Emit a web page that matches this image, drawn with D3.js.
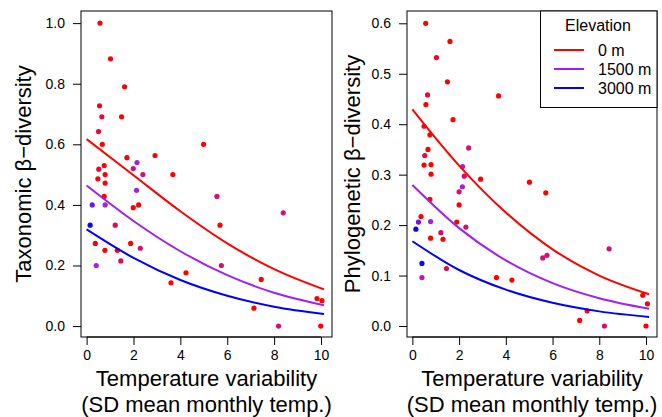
<!DOCTYPE html>
<html>
<head>
<meta charset="utf-8">
<script src="https://cdn.jsdelivr.net/npm/d3@7"></script>
<style>
  body { margin: 0; background: #fff; }
  svg { display: block; font-family: "Liberation Sans", Arial, sans-serif; }
</style>
</head>
<body>
<svg id="chart"></svg>
<script>
// site points, taxonomic panel: [temp variability, beta diversity, elevation m]
const taxPoints = [
    [0.57, 1.00, 0], [1.02, 0.882, 0], [1.62, 0.79, 0], [0.55, 0.727, 100],
    [0.65, 0.691, 300], [1.49, 0.691, 0], [0.51, 0.642, 300], [0.67, 0.60, 0],
    [4.99, 0.60, 0], [2.92, 0.563, 0], [1.72, 0.556, 0], [2.15, 0.54, 1400],
    [0.75, 0.53, 0], [0.52, 0.518, 300], [1.99, 0.52, 700], [0.79, 0.50, 0],
    [2.40, 0.50, 700], [3.68, 0.50, 0], [0.48, 0.486, 0], [0.79, 0.472, 0],
    [0.75, 0.428, 0], [0.24, 0.40, 2000], [0.79, 0.40, 1400], [2.13, 0.448, 1400],
    [2.22, 0.40, 0], [1.99, 0.391, 0], [5.56, 0.428, 700], [5.69, 0.333, 0],
    [8.39, 0.374, 700], [0.15, 0.333, 2900], [1.22, 0.333, 500], [0.37, 0.273, 0],
    [1.88, 0.273, 0], [2.29, 0.257, 700], [0.78, 0.25, 0], [1.31, 0.25, 0],
    [1.46, 0.215, 500], [0.41, 0.20, 1400], [5.75, 0.20, 700], [4.24, 0.176, 0],
    [3.60, 0.143, 0], [7.45, 0.154, 0], [7.14, 0.059, 0], [9.83, 0.091, 0],
    [10.04, 0.084, 0], [8.19, 0.0, 700], [9.99, 0.0, 0]
];

// site points, phylogenetic panel
const phyPoints = [
    [0.57, 0.60, 0], [1.61, 0.564, 0], [1.03, 0.532, 200], [1.50, 0.484, 0],
    [0.65, 0.458, 300], [3.69, 0.456, 0], [0.58, 0.439, 0], [1.74, 0.409, 0],
    [0.50, 0.396, 300], [0.75, 0.379, 0], [2.41, 0.353, 700], [0.67, 0.35, 0],
    [0.53, 0.338, 300], [0.50, 0.319, 0], [0.80, 0.32, 0], [2.15, 0.316, 1400],
    [0.80, 0.301, 0], [2.22, 0.297, 700], [2.92, 0.291, 0], [5.01, 0.285, 0],
    [5.71, 0.264, 0], [0.75, 0.251, 0], [2.14, 0.276, 1400], [2.00, 0.266, 700],
    [2.00, 0.24, 0], [0.37, 0.217, 0], [0.26, 0.206, 2000], [0.78, 0.207, 1400],
    [1.90, 0.206, 0], [2.29, 0.196, 700], [0.15, 0.192, 2900], [1.22, 0.185, 500],
    [0.78, 0.174, 0], [1.31, 0.172, 0], [0.41, 0.124, 2900], [1.46, 0.114, 500],
    [0.41, 0.096, 1100], [5.58, 0.135, 700], [5.76, 0.14, 700], [8.42, 0.153, 700],
    [3.60, 0.096, 0], [4.26, 0.091, 0], [9.86, 0.061, 0], [10.06, 0.044, 0],
    [7.48, 0.030, 0], [7.16, 0.011, 0], [8.22, 0.0, 700], [10.0, 0.0, 0]
];

// fitted curves
const curveX = [0, 2, 4, 6, 8, 10.13];
const taxFit0 = [0.617, 0.498, 0.379, 0.273, 0.188, 0.121];
const taxFit1500 = [0.464, 0.347, 0.247, 0.168, 0.110, 0.069];
const taxFit3000 = [0.319, 0.225, 0.152, 0.100, 0.064, 0.040];
const phyFit0 = [0.4295, 0.318, 0.225, 0.152, 0.100, 0.063];
const phyFit1500 = [0.2794, 0.194, 0.130, 0.085, 0.055, 0.034];
const phyFit3000 = [0.168, 0.111, 0.072, 0.046, 0.029, 0.018];

const elevations = [0, 1500, 3000];
const legendLabels = ['0 m', '1500 m', '3000 m'];
const lineColors = ['#ff0000', '#a020f0', '#0000ff'];

const xTicks = [0, 2, 4, 6, 8, 10];
const taxTicks = [0, 0.2, 0.4, 0.6, 0.8, 1.0];
const phyTicks = [0, 0.1, 0.2, 0.3, 0.4, 0.5, 0.6];

const width = 662;
const height = 417;

const svg = d3.select('#chart')
    .attr('width', width)
    .attr('height', height);

const color = d3.scaleLinear()
    .domain(elevations)
    .range(lineColors);

function drawPanel(p) {
    const x = d3.scaleLinear().domain(p.xDomain).range([p.left, p.right]);
    const y = d3.scaleLinear().domain(p.yDomain).range([337, 11]);
    const g = svg.append('g');

    // points
    g.selectAll('.pt')
        .data(p.points)
        .enter().append('circle')
        .attr('cx', d => x(d[0]))
        .attr('cy', d => y(d[1]))
        .attr('r', 2.6)
        .attr('fill', d => color(d[2]));

    // curves
    const line = d3.line()
        .x((d, i) => x(curveX[i]))
        .y(d => y(d))
        .curve(d3.curveMonotoneX);

    p.fits.forEach((f, i) => {
        g.append('path')
            .attr('d', line(f))
            .attr('fill', 'none')
            .attr('stroke', lineColors[i])
            .attr('stroke-width', 2);
    });

    // box
    g.append('rect')
        .attr('x', p.left)
        .attr('y', 11)
        .attr('width', p.right - p.left)
        .attr('height', 326)
        .attr('fill', 'none')
        .attr('stroke', '#000')
        .attr('stroke-width', 1);

    // x axis
    const xa = g.append('g')
        .attr('transform', 'translate(0,337)')
        .call(d3.axisBottom(x).tickValues(xTicks).tickFormat(d3.format('d')).tickSizeOuter(0).tickSize(8).tickPadding(5));
    xa.select('.domain').attr('d', `M${x(0)},0H${x(10)}`);
    xa.selectAll('text').attr('font-size', 14).attr('font-family', null);

    // y axis
    const ya = g.append('g')
        .attr('transform', `translate(${p.left},0)`)
        .call(d3.axisLeft(y).tickValues(p.yTicks).tickFormat(d3.format('.1f')).tickSizeOuter(0).tickSize(8).tickPadding(8));
    ya.select('.domain').remove();
    ya.selectAll('text').attr('font-size', 14).attr('font-family', null);

    const cx = (p.left + p.right) / 2;
    g.append('text')
        .attr('x', cx)
        .attr('y', 386)
        .attr('text-anchor', 'middle')
        .attr('font-size', 22)
        .text('Temperature variability');
    g.append('text')
        .attr('x', cx)
        .attr('y', 412)
        .attr('text-anchor', 'middle')
        .attr('font-size', 22)
        .text('(SD mean monthly temp.)');

    g.append('text')
        .attr('transform', `translate(${p.labelX},174) rotate(-90)`)
        .attr('text-anchor', 'middle')
        .attr('font-size', 22)
        .text(p.yLabel);
}

drawPanel({
    left: 81, right: 332,
    xDomain: [-0.24, 10.47], yDomain: [-0.036, 1.04],
    points: taxPoints, fits: [taxFit0, taxFit1500, taxFit3000],
    yTicks: taxTicks, yLabel: 'Taxonomic β\u2212diversity', labelX: 31
});

drawPanel({
    left: 407, right: 657,
    xDomain: [-0.23, 10.47], yDomain: [-0.0218, 0.6244],
    points: phyPoints, fits: [phyFit0, phyFit1500, phyFit3000],
    yTicks: phyTicks, yLabel: 'Phylogenetic β\u2212diversity', labelX: 360
});

// legend
const legend = svg.append('g');
legend.append('rect')
    .attr('x', 540.5).attr('y', 11)
    .attr('width', 116.5).attr('height', 96.5)
    .attr('fill', '#fff')
    .attr('stroke', '#000');
legend.append('text')
    .attr('x', 598).attr('y', 31)
    .attr('text-anchor', 'middle')
    .attr('font-size', 16)
    .text('Elevation');
legendLabels.forEach((lab, i) => {
    const ly = 50 + i * 19;
    legend.append('line')
        .attr('x1', 554).attr('x2', 584)
        .attr('y1', ly).attr('y2', ly)
        .attr('stroke', lineColors[i])
        .attr('stroke-width', 2);
    legend.append('text')
        .attr('x', 598).attr('y', ly + 5.5)
        .attr('font-size', 16)
        .text(lab);
});
</script>
</body>
</html>
